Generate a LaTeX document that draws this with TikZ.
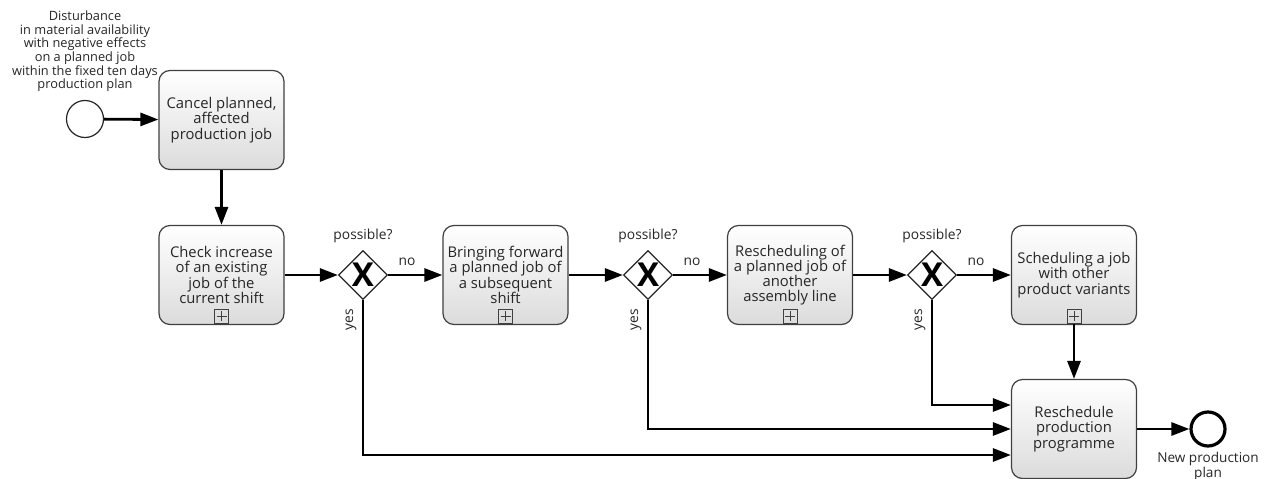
\documentclass[tikz,border=0pt]{standalone}
\usepackage{fontspec}
\setmainfont{Open Sans}
\usetikzlibrary{shapes.geometric,arrows.meta,calc}
\begin{document}
\begin{tikzpicture}[x=1pt,y=-1pt,
  every node/.style={font=\fontsize{14.8}{15.2}\selectfont, text=black!85},
  task/.style={draw=black!75, line width=1.2pt, rounded corners=11pt,
    top color=white, bottom color=black!14, minimum width=125pt, minimum height=99pt,
    align=center, inner sep=2pt},
  gate/.style={diamond, draw=black!85, line width=1.2pt, fill=white, aspect=1,
    minimum width=49pt, minimum height=49pt, inner sep=0pt,
    font=\fontsize{33}{33}\selectfont\bfseries, text=black},
  plusbox/.style={draw=black!75, line width=0.8pt, minimum size=14pt, inner sep=0pt,
    path picture={\draw[black!75, line width=0.8pt]
      ([yshift=-2pt]path picture bounding box.north) -- ([yshift=2pt]path picture bounding box.south)
      ([xshift=2pt]path picture bounding box.west) -- ([xshift=-2pt]path picture bounding box.east);}},
  flow/.style={line width=2.8pt, -{Triangle[length=18pt,width=13pt]}, line join=miter},
  lbl/.style={font=\fontsize{13.8}{15}\selectfont, inner sep=0pt},
  small/.style={font=\fontsize{12.8}{13.6}\selectfont, align=center, inner sep=0pt}
]
\useasboundingbox (0,0) rectangle (1266,479);

% events
\node[circle, draw=black!85, line width=1.2pt, fill=white, minimum size=37pt, inner sep=0pt] (s) at (85,119) {};
\node[circle, draw=black, line width=3.2pt, fill=white, minimum size=34pt, inner sep=0pt] (e) at (1208,429) {};
\node[small, anchor=south] (sl) at (85,92) {Disturbance\\in material availability\\with negative effects\\on a planned job\\within the fixed ten days\\production plan};
\node[small, anchor=north, font=\fontsize{13.6}{12.8}\selectfont] (el) at (1208,452) {New production\\plan};

% tasks
\node[task] (t1) at (221.5,120) {Cancel planned,\\affected\\production job};
\node[task] (t2) at (221.5,275) {Check increase\\of an existing\\job of the\\current shift};
\node[task] (t3) at (505.5,275) {Bringing forward\\a planned job of\\a subsequent\\shift};
\node[task] (t4) at (790,275) {Rescheduling of\\a planned job of\\another\\assembly line};
\node[task] (t5) at (1074,275) {Scheduling a job\\with other\\product variants};
\node[task] (t6) at (1074,429) {Reschedule\\production\\programme};

\foreach \t in {t2,t3,t4,t5}{
  \node[plusbox] (\t m) at ([yshift=9pt]\t.south) {};
}

% gateways
\node[gate] (g1) at (363,275) {X};
\node[gate] (g2) at (648,275) {X};
\node[gate] (g3) at (932,275) {X};
\foreach \g in {g1,g2,g3}{
  \node[lbl] (\g q) at ([yshift=39pt]\g.center) {possible?};
  \node[lbl, rotate=90] (\g y) at ([xshift=-12pt,yshift=-45pt]\g.center) {yes};
  \node[lbl] (\g n) at ([xshift=44pt,yshift=13pt]\g.center) {no};
}

% flows
\draw[flow] (s) -- (t1);
\draw[flow] (t1) -- (t2);
\draw[flow] (t2) -- (g1);
\draw[flow] (g1) -- (t3);
\draw[flow] (t3) -- (g2);
\draw[flow] (g2) -- (t4);
\draw[flow] (t4) -- (g3);
\draw[flow] (g3) -- (t5);
\draw[flow] (t5m.south) -- (t6);
\draw[flow] (t6) -- (e);
\draw[flow] (g3.south) |- ([yshift=24pt]t6.west);
\draw[flow] (g2.south) |- (t6.west);
\draw[flow] (g1.south) |- ([yshift=-26pt]t6.west);
\end{tikzpicture}
\end{document}
